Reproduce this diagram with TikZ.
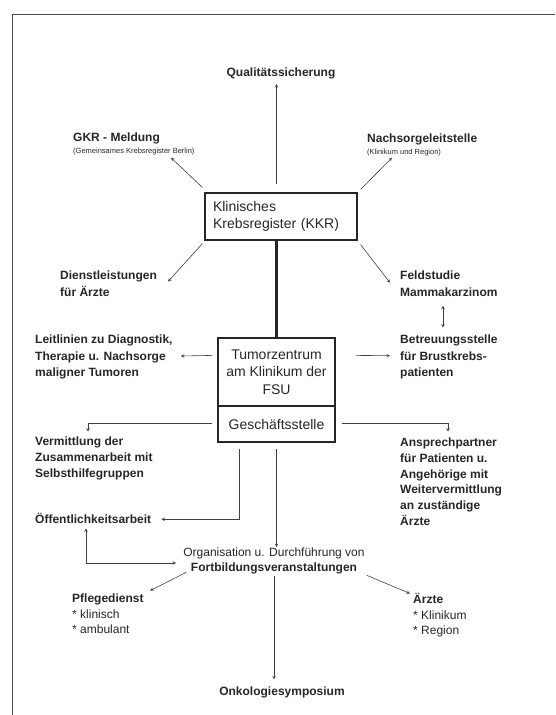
\documentclass[tikz,border=0pt]{standalone}
\usepackage{fontspec}
\setmainfont{Liberation Sans}
\usetikzlibrary{calc}

\begin{document}
\begin{tikzpicture}[>=stealth, x=1pt, y=-1pt,
  every node/.style={inner sep=0pt, text=black!85},
  lbl/.style={font=\fontsize{12}{16.5}\selectfont\bfseries, align=left},
  txt/.style={font=\fontsize{12}{15.5}\selectfont, align=left},
  boxed/.style={draw=black!85, line width=1.2pt, font=\fontsize{14}{17.5}\selectfont},
  link/.style={->, line width=0.6pt, black!75}]
  \useasboundingbox (0,0) rectangle (555,715);
  \draw[line width=0.8pt, black!70] (555,14) -- (12,14) -- (12,715);

  \node[lbl, anchor=base] (qs) at (281,76.3) {Qualitätssicherung};
  \node[lbl, anchor=north west] (gkr) at (73,132.7)
    {GKR - Meldung\\[-5pt]{\fontsize{7.5}{9}\mdseries\selectfont (Gemeinsames Krebsregister Berlin)}};
  \node[lbl, anchor=north west] (nach) at (367,133.7)
    {Nachsorgeleitstelle\\[-5pt]{\fontsize{7.5}{9}\mdseries\selectfont (Klinikum und Region)}};
  \node[boxed, minimum width=152pt, minimum height=47pt, text width=136pt,
    inner xsep=8pt, align=left] (kkr) at (281,216.5) {Klinisches\\Krebsregister (KKR)};
  \node[lbl, anchor=north west] (dienst) at (60,270.7) {Dienstleistungen\\für Ärzte};
  \node[lbl, anchor=north west] (feld) at (400,270.7) {Feldstudie\\Mammakarzinom};
  \node[boxed, minimum width=117pt, minimum height=68pt, align=center] (tz) at (276.5,372)
    {Tumorzentrum\\am Klinikum der\\FSU};
  \node[boxed, minimum width=117pt, minimum height=36pt] (gs) at (276.5,424) {Geschäftsstelle};
  \node[lbl, anchor=north west] (leit) at (35,334.7)
    {Leitlinien zu Diagnostik,\\Therapie u. Nachsorge\\maligner Tumoren};
  \node[lbl, anchor=north west] (betr) at (400,334.7) {Betreuungsstelle\\für Brustkrebs-\\patienten};
  \node[lbl, anchor=north west, font=\fontsize{12}{15.7}\selectfont\bfseries] (verm) at (35,436.7)
    {Vermittlung der\\Zusammenarbeit mit\\Selbsthilfegruppen};
  \node[lbl, anchor=north west, font=\fontsize{12}{15.7}\selectfont\bfseries] (ansp) at (400,437.7)
    {Ansprechpartner\\für Patienten u.\\Angehörige mit\\Weitervermittlung\\an zuständige\\Ärzte};
  \node[lbl, anchor=base west] (oeff) at (35,523.3) {Öffentlichkeitsarbeit};
  \node[txt, anchor=north, align=center, font=\fontsize{12}{15}\selectfont] (fort) at (274,547.7)
    {Organisation u. Durchführung von\\\textbf{Fortbildungsveranstaltungen}};
  \node[txt, anchor=north west] (pfl) at (72,593.7) {\textbf{Pflegedienst}\\* klinisch\\* ambulant};
  \node[txt, anchor=north west] (aerzte) at (413,593.5) {\textbf{Ärzte}\\* Klinikum\\* Region};
  \node[lbl, anchor=base] (onko) at (282,695.3) {Onkologiesymposium};

  \draw[link] ($(tz.north |- kkr.north)+(0,-8)$) -- ($(tz.north |- qs.south)+(0,5)$);
  \draw[link] ($(kkr.north west)+(-2,-5)$) -- ($(gkr.north west)+(98,25)$);
  \draw[link] ($(kkr.north east)+(3,-3)$) -- ($(nach.north west)+(25,24)$);
  \draw[link] ($(kkr.south west)+(-2,3)$) -- ($(dienst.east)+(11,-2)$);
  \draw[link] ($(kkr.south east)+(3,4)$) -- ($(feld.north west)+(-10,12)$);
  \draw[link, <->] ($(feld.north west)+(43,35)$) -- ($(betr.north west)+(43,-7)$);
  \draw[line width=3.3pt, black!85] (kkr.south -| tz.north) -- (tz.north);
  \draw[link] ($(tz.north west)+(-5,18)$) -- ($(leit.east)+(8,-1)$);
  \draw[link] ($(tz.north east)+(20,18)$) -- ($(betr.north west)+(-10,21)$);
  \draw[link] ($(gs.west)+(-5,-1)$) -| ($(verm.north west)+(53,-5)$);
  \draw[link] ($(gs.east)+(6,-1)$) -| ($(ansp.north west)+(48,-6)$);
  \draw[link] ($(gs.south west)+(22,6)$) |- ($(oeff.east)+(10,1)$);
  \draw[link] ($(gs.south)+(0,6)$) -- ($(gs.south |- fort.north)+(0,-0.5)$);
  \draw[link, <->] ($(oeff.base west)+(51,5)$) |- ($(fort.west)+(-7,2)$);
  \draw[link] ($(fort.south west)+(3,-2)$) -- ($(pfl.north west)+(78,-3)$);
  \draw[link] ($(fort.south east)+(2,1)$) -- ($(aerzte.north west)+(-3,0)$);
  \draw[link] ($(fort.south)+(0,2)$) -- ($(fort.south |- onko.north)+(0,-7)$);
\end{tikzpicture}
\end{document}
